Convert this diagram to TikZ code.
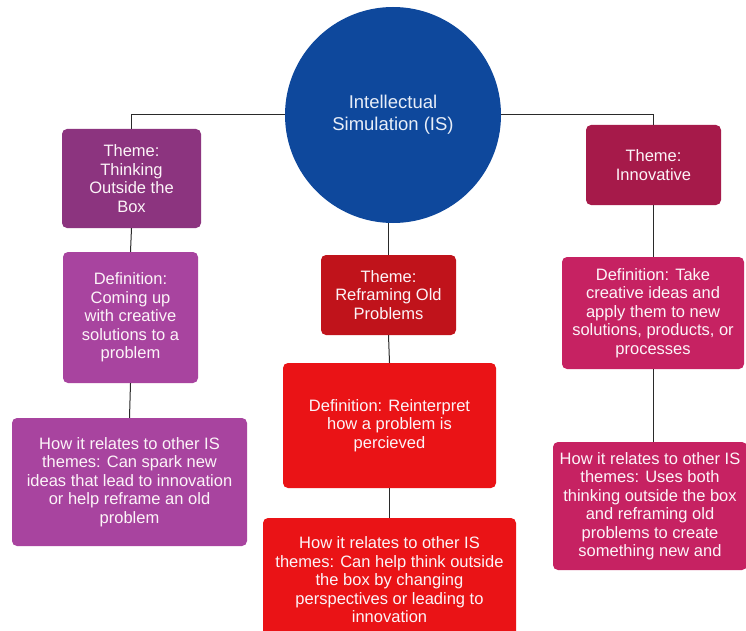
\documentclass[tikz,border=0pt]{standalone}
\usepackage{fontspec}
\setmainfont{Liberation Sans}
\definecolor{isblue}{HTML}{0E489C}
\definecolor{thinkT}{HTML}{8C347F}
\definecolor{thinkD}{HTML}{A8449F}
\definecolor{refrT}{HTML}{C0131B}
\definecolor{refrD}{HTML}{EA1316}
\definecolor{innoT}{HTML}{A61A4A}
\definecolor{innoD}{HTML}{C62262}
\definecolor{linec}{HTML}{2A2A2A}
\tikzset{
  box/.style={rectangle, rounded corners=5pt, inner sep=0pt, align=center,
    text={rgb,255:red,252;green,244;blue,248}, font=\fontsize{16.5}{18.5}\selectfont},
  conn/.style={draw=linec, line width=1pt},
}
\begin{document}
\begin{tikzpicture}[x=1pt,y=-1pt]
\clip (0,0) rectangle (746,631);
\fill[white] (0,0) rectangle (746,631);
% centre
\node[circle, fill=isblue, minimum size=216pt, inner sep=0pt, align=center,
  text={rgb,255:red,232;green,238;blue,248}, font=\fontsize{18.5}{22}\selectfont]
  (IS) at (393,115) {Intellectual\\Simulation (IS)};
% left column
\node[box, fill=thinkT, minimum width=139pt, minimum height=99pt] (t1) at (131.5,178.5)
  {Theme:\\Thinking\\Outside the\\Box};
\node[box, fill=thinkD, minimum width=135pt, minimum height=131pt] (d1) at (130.5,317.5)
  {Definition:\\Coming up\\with creative\\solutions to a\\problem};
\node[box, fill=thinkD, minimum width=235pt, minimum height=128pt] (r1) at (129.5,482)
  {How it relates to other IS\\themes: Can spark new\\ideas that lead to innovation\\or help reframe an old\\problem};
% middle column
\node[box, fill=refrT, minimum width=135pt, minimum height=80pt] (t2) at (388.5,295)
  {Theme:\\Reframing Old\\Problems};
\node[box, fill=refrD, minimum width=213pt, minimum height=125pt] (d2) at (389.5,425.5)
  {Definition: Reinterpret\\how a problem is\\percieved};
\node[box, fill=refrD, minimum width=253pt, minimum height=124pt] (r2) at (389.5,580)
  {How it relates to other IS\\themes: Can help think outside\\the box by changing\\perspectives or leading to\\innovation};
% right column
\node[box, fill=innoT, minimum width=135pt, minimum height=80pt] (t3) at (653.5,165)
  {Theme:\\Innovative};
\node[box, fill=innoD, minimum width=182pt, minimum height=112pt] (d3) at (653,313)
  {Definition: Take\\creative ideas and\\apply them to new\\solutions, products, or\\processes};
\node[box, fill=innoD, minimum width=194pt, minimum height=128pt] (r3) at (650,506)
  {How it relates to other IS\\themes: Uses both\\thinking outside the box\\and reframing old\\problems to create\\something new and};
% connectors
\draw[conn] (IS.west) -| (t1.north);
\draw[conn] (IS.east) -| (t3.north);
\draw[conn] (t2.north |- IS.south) -- (t2.north);
\draw[conn] (t1.south) -- (d1.north);
\draw[conn] (d1.south) -- (r1.north);
\draw[conn] (t2.south) -- (d2.north);
\draw[conn] (d2.south) -- (r2.north);
\draw[conn] (t3.south) -- (d3.north -| t3.south);
\draw[conn] (d3.south -| t3.south) -- (r3.north -| t3.south);
\end{tikzpicture}
\end{document}
